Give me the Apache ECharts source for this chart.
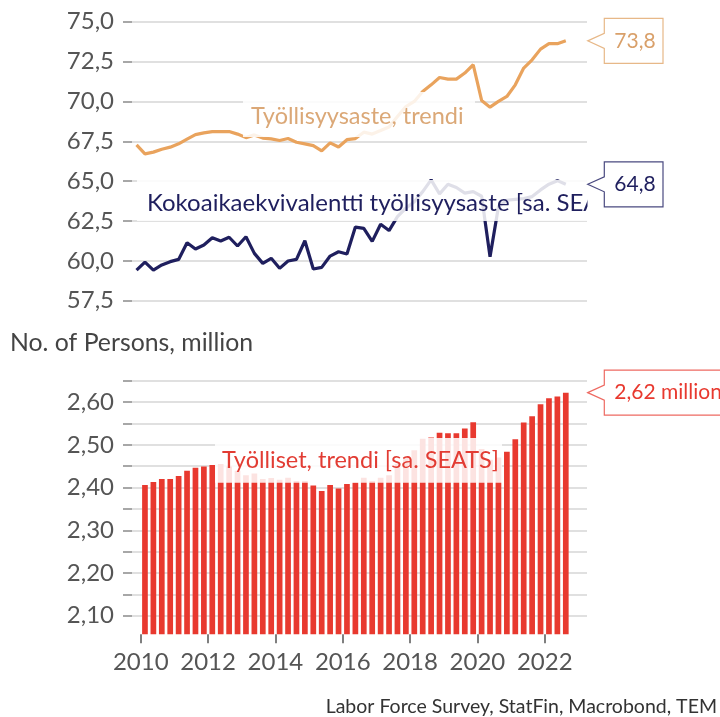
<!DOCTYPE html>
<html>
<head>
<meta charset="utf-8">
<script src="https://cdn.jsdelivr.net/npm/echarts@6/dist/echarts.min.js"></script>
<style>
  html, body { margin: 0; padding: 0; background: #fff; }
  #chart { width: 720px; height: 717px; }
</style>
</head>
<body>
<div id="chart"></div>
<script>
// quarters 2009Q4 .. 2022Q3
const quarters = [];
for (let y = 2009; y <= 2022; y++) {
  for (let q = 1; q <= 4; q++) {
    if ((y === 2009 && q < 4) || (y === 2022 && q > 3)) continue;
    quarters.push(y + "Q" + q);
  }
}

// Työllisyysaste, trendi (%)
const employmentRate = [
  67.27, 66.71, 66.82, 67.0, 67.13, 67.34, 67.63, 67.92, 68.03, 68.11,
  68.11, 68.11, 67.95, 67.73, 67.9, 67.7, 67.65, 67.55, 67.67, 67.44,
  67.34, 67.23, 66.9, 67.4, 67.14, 67.6, 67.67, 68.07, 67.95, 68.17,
  68.4, 69.05, 69.68, 70.0, 70.62, 71.04, 71.5, 71.4, 71.4, 71.78,
  72.3, 70.06, 69.64, 70.0, 70.31, 71.04, 72.09, 72.61, 73.28, 73.62,
  73.62, 73.8
];

// Kokoaikaekvivalentti työllisyysaste [sa. SEATS] (%)
const fteRate = [
  59.42, 59.92, 59.42, 59.74, 59.95, 60.09, 61.14, 60.74, 60.99, 61.45,
  61.24, 61.48, 60.93, 61.51, 60.47, 59.84, 60.16, 59.53, 59.99, 60.09,
  61.26, 59.49, 59.59, 60.3, 60.57, 60.43, 62.12, 62.04, 61.22, 62.3,
  61.9, 62.77, 63.3, 63.71, 64.34, 65.08, 64.2, 64.8, 64.6, 64.25,
  64.34, 64.05, 60.26, 63.4, 63.8, 63.86, 63.9, 64.03, 64.45, 64.81,
  65.03, 64.8
];

// Työlliset, trendi [sa. SEATS] (million), 2010Q1 .. 2022Q3
const employed = [
  2.406, 2.413, 2.42, 2.42, 2.427, 2.439, 2.446, 2.449, 2.453, 2.455,
  2.449, 2.439, 2.429, 2.433, 2.42, 2.422, 2.418, 2.423, 2.415, 2.415,
  2.405, 2.392, 2.406, 2.398, 2.408, 2.412, 2.423, 2.415, 2.423, 2.429,
  2.455, 2.47, 2.487, 2.514, 2.517, 2.528, 2.527, 2.527, 2.538, 2.553,
  2.49, 2.465, 2.47, 2.484, 2.513, 2.552, 2.567, 2.595, 2.609, 2.613,
  2.622
];

const yearTicks = [2010, 2012, 2014, 2016, 2018, 2020, 2022];
const employedTicks = [2.1, 2.15, 2.2, 2.25, 2.3, 2.35, 2.4, 2.45, 2.5, 2.55, 2.6, 2.65];
const employedLabels = [2.1, 2.2, 2.3, 2.4, 2.5, 2.6];

// quarter label -> decimal year at quarter midpoint
function qx(label) {
  const y = +label.slice(0, 4), q = +label.slice(5);
  return y + (q - 1) * 0.25 + 0.125;
}

const xMin = 2009.74, xMax = 2023.255;
const font = "Lato";
const grey = "#555555";
const gridCol = "#d6d6d6";
const orange = "#e9a35d";
const navy = "#1f1f5e";
const red = "#e8392f";

const lineOrange = quarters.map((q, i) => [qx(q), employmentRate[i]]);
const lineNavy = quarters.map((q, i) => [qx(q), fteRate[i]]);
const bars = quarters.slice(1).map((q, i) => [qx(q), employed[i]]);

const chart = echarts.init(document.getElementById("chart"), null, { renderer: "canvas" });

const yAxisCommon = {
  type: "value",
  axisLine: { show: false },
  axisTick: { show: true, length: 9, lineStyle: { color: "#8a8a8a", width: 1.5 } },
  axisLabel: { color: grey, fontFamily: font, fontSize: 24, margin: 18 },
  splitLine: { show: true, lineStyle: { color: gridCol, width: 1.5 } },
};

const option = {
  animation: false,
  backgroundColor: "#fff",
  textStyle: { fontFamily: font },
  grid: [
    { left: 132, width: 455, top: 21.7, height: 279 },
    { left: 132, width: 455, top: 380.7, height: 253.6 },
  ],
  xAxis: [
    { type: "value", gridIndex: 0, min: xMin, max: xMax, show: false },
    {
      type: "value", gridIndex: 1, min: xMin, max: xMax,
      axisLine: { show: false },
      splitLine: { show: false },
      axisTick: { show: true, length: 9, customValues: yearTicks, lineStyle: { color: grey, width: 1.5 } },
      axisLabel: { customValues: yearTicks, color: grey, fontFamily: font, fontSize: 24, margin: 16, formatter: v => String(v) },
    },
  ],
  yAxis: [
    Object.assign({}, yAxisCommon, {
      gridIndex: 0, min: 57.5, max: 75, interval: 2.5,
      axisLabel: Object.assign({}, yAxisCommon.axisLabel, { formatter: v => v.toFixed(1).replace(".", ",") }),
    }),
    Object.assign({}, yAxisCommon, {
      gridIndex: 1, min: 2.0565, max: 2.65,
      axisTick: Object.assign({}, yAxisCommon.axisTick, { customValues: employedTicks }),
      axisLabel: Object.assign({}, yAxisCommon.axisLabel, { customValues: employedLabels, formatter: v => v.toFixed(2).replace(".", ",") }),
    }),
  ],
  series: [
    {
      name: "Työllisyysaste, trendi", type: "line", xAxisIndex: 0, yAxisIndex: 0,
      data: lineOrange, showSymbol: false, symbol: "none",
      lineStyle: { color: orange, width: 3.2 }, z: 3,
    },
    {
      name: "Kokoaikaekvivalentti työllisyysaste [sa. SEATS]", type: "line", xAxisIndex: 0, yAxisIndex: 0,
      data: lineNavy, showSymbol: false, symbol: "none",
      lineStyle: { color: navy, width: 3.2 }, z: 3,
    },
    {
      name: "Työlliset, trendi [sa. SEATS]", type: "bar", xAxisIndex: 1, yAxisIndex: 1,
      data: bars, barWidth: 5.7,
      itemStyle: { color: red },
    },
  ],
};

chart.setOption(option);

// callout boxes pointing at the last values
function callout(seriesIdx, gridIdx, text, border, color, boxRight) {
  const last = option.series[seriesIdx].data.slice(-1)[0];
  const p = chart.convertToPixel({ xAxisIndex: gridIdx, yAxisIndex: gridIdx }, [xMax, last[1]]);
  const tipX = p[0] + 0.7, ty = p[1];
  const bx = tipX + 16.6;
  return [
    {
      type: "polygon", z: 60, silent: true,
      shape: { points: [[tipX, ty], [bx, ty - 7.5], [bx, ty - 22.5], [boxRight, ty - 22.5], [boxRight, ty + 22.5], [bx, ty + 22.5], [bx, ty + 7.5]] },
      style: { fill: "#fff", stroke: border, lineWidth: 1.2 },
    },
    {
      type: "text", z: 61, silent: true,
      x: bx + 10, y: ty,
      style: { text: text, fill: color, font: "21px " + font, textVerticalAlign: "middle", textAlign: "left" },
    },
  ];
}

const veil = "rgba(255,255,255,0.86)";
const graphics = [
  // series name boxes (semi-transparent white over the plot)
  { type: "rect", z: 50, silent: true, shape: { x: 243, y: 92, width: 232, height: 45 }, style: { fill: veil } },
  { type: "text", z: 51, silent: true, x: 251, y: 116,
    style: { text: "Työllisyysaste, trendi", fill: "#dba877", font: "23.5px " + font, textVerticalAlign: "middle" } },
  { type: "rect", z: 50, silent: true, shape: { x: 137, y: 180, width: 450, height: 41 }, style: { fill: veil } },
  { type: "text", z: 51, silent: true, x: 147, y: 203,
    style: { text: "Kokoaikaekvivalentti työllisyysaste [sa. SEATS]", fill: navy, font: "24px " + font,
      textVerticalAlign: "middle" } },
  // clip the name at the plot edge
  { type: "rect", z: 55, silent: true, shape: { x: 587.5, y: 192.2, width: 140, height: 34 }, style: { fill: "#fff" } },
  { type: "rect", z: 50, silent: true, shape: { x: 215, y: 438, width: 287, height: 44.7 }, style: { fill: veil } },
  { type: "text", z: 51, silent: true, x: 222, y: 460,
    style: { text: "Työlliset, trendi [sa. SEATS]", fill: "#e23c33", font: "23.5px " + font, textVerticalAlign: "middle" } },
  // axis caption and source
  { type: "text", silent: true, x: 10, y: 343,
    style: { text: "No. of Persons, million", fill: "#444", font: "24.8px " + font, textVerticalAlign: "middle" } },
  { type: "text", silent: true, x: 717, y: 707,
    style: { text: "Labor Force Survey, StatFin, Macrobond, TEM", fill: "#333", font: "19.5px " + font, textAlign: "right", textVerticalAlign: "middle" } },
]
  .concat(callout(0, 0, "73,8", "#e7b888", "#d9a06a", 663))
  .concat(callout(1, 0, "64,8", "#4a4a80", navy, 663))
  .concat(callout(2, 1, "2,62 million", "#ee6a62", red, 740));

chart.setOption({ graphic: graphics });
</script>
</body>
</html>
